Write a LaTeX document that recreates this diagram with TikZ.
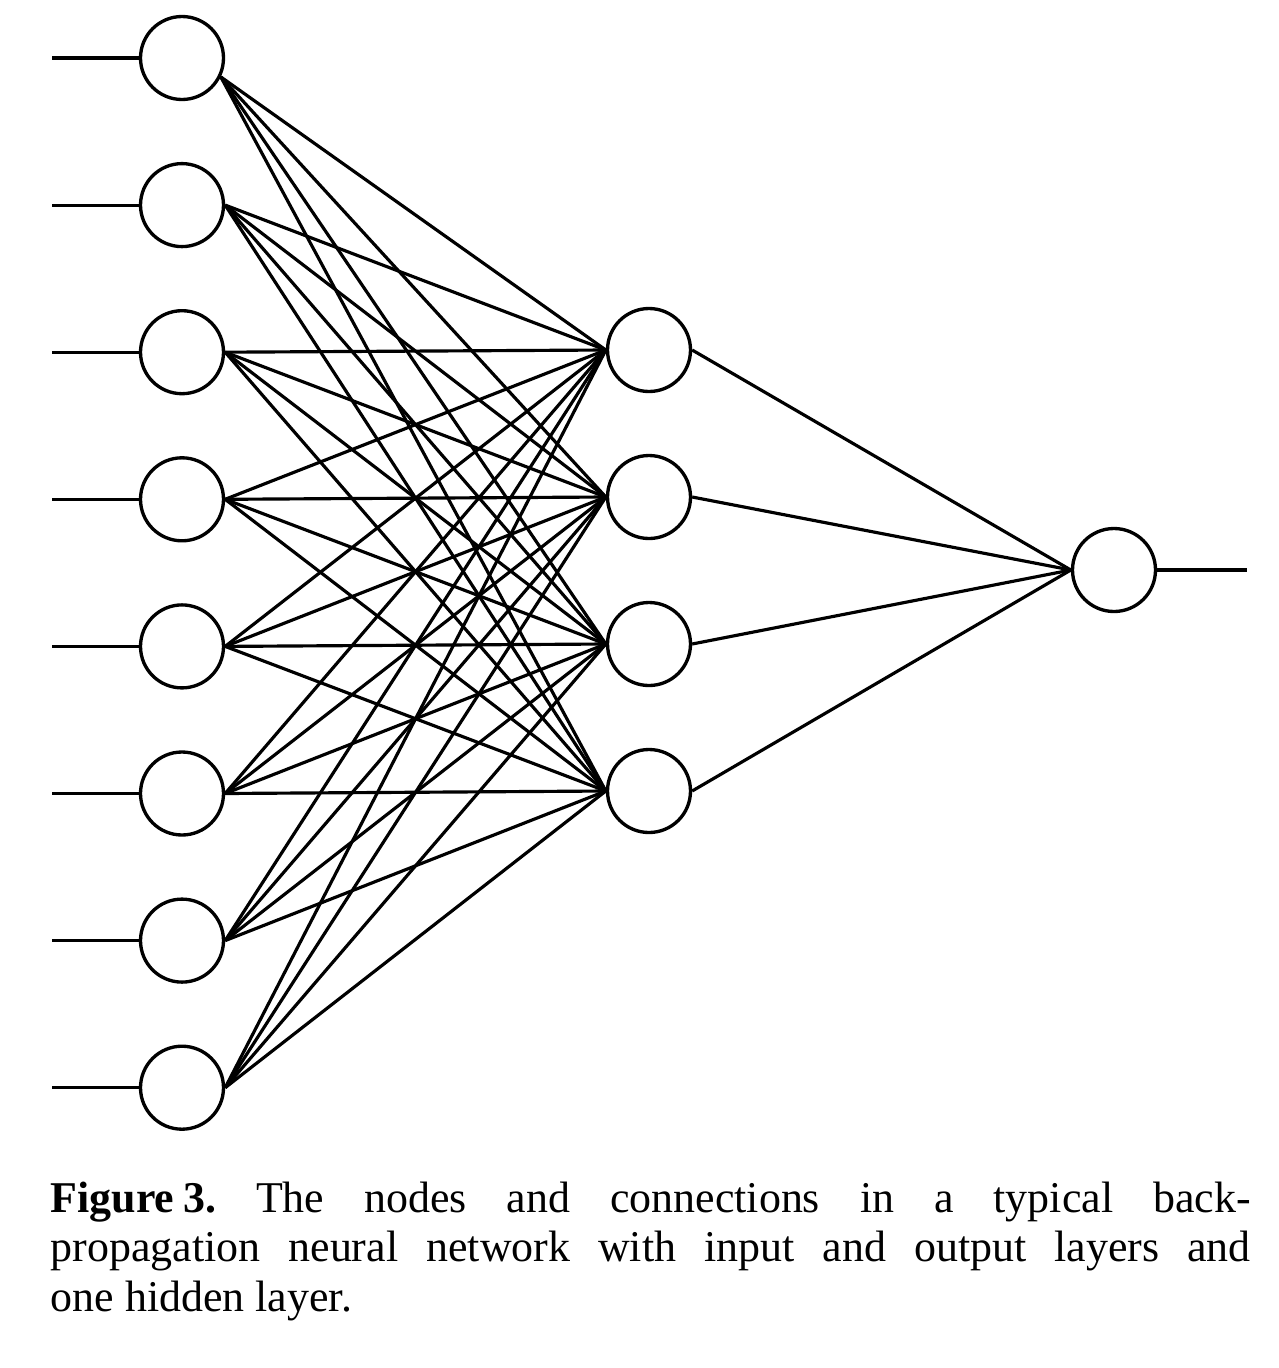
\documentclass[tikz,border=0pt]{standalone}
\usepackage{fontspec}
\setmainfont{Liberation Serif}
\usepackage{tikz}

\begin{document}
\begin{tikzpicture}[
    neuron/.style={draw, circle, line width=0.95pt, minimum size=0.83cm, inner sep=0pt},
    link/.style={line width=0.9pt}
  ]
  \useasboundingbox (0,0) rectangle (12.79,-13.68);

  % input layer
  \foreach \i in {1,...,8} {
    \node[neuron] (in\i) at (1.82,{-0.58-(\i-1)*1.471}) {};
    \coordinate (x\i) at (0.52,{-0.58-(\i-1)*1.471});
    \draw[link] (x\i) -- (in\i.west);
  }

  % hidden layer
  \foreach \j in {1,...,4}
    \node[neuron] (hid\j) at (6.49,{-3.50-(\j-1)*1.47}) {};

  % output layer
  \node[neuron] (out) at (11.14,-5.70) {};
  \coordinate (y) at (12.47,-5.70);
  \draw[link] (out.east) -- (y);

  % connections
  \foreach \i/\a in {1/-26,2/0,3/0,4/0,5/0,6/0,7/0,8/0}
    \foreach \j in {1,...,4}
      \draw[link] (in\i.\a) -- (hid\j.west);
  \foreach \j in {1,...,4}
    \draw[link] (hid\j.east) -- (out.west);

  % caption
  \node[anchor=base west, text width=12cm, align=justify, inner sep=0pt,
        font=\fontsize{12.5pt}{14.2pt}\selectfont\frenchspacing] (caption) at (0.50,-12.12)
    {\textbf{Figure\hspace{0.2em}3.} The nodes and connections in a typical back-\linebreak
     propagation neural network with input and output layers and\linebreak
     one hidden layer.};
\end{tikzpicture}
\end{document}
